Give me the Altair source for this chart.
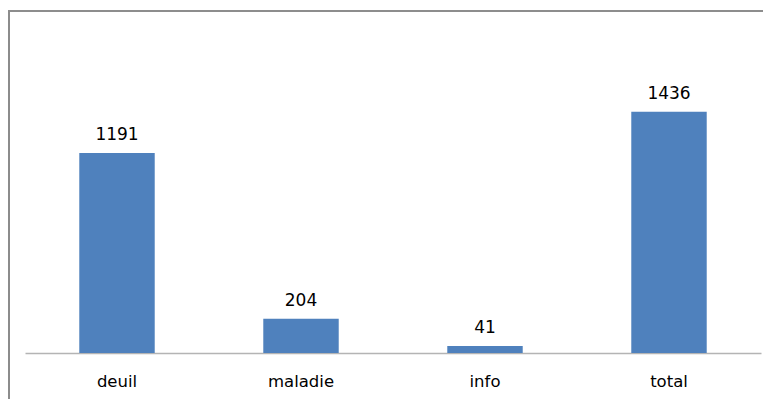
import altair as alt
import pandas as pd

categories = ["deuil", "maladie", "info", "total"]
values = [1191, 204, 41, 1436]

df = pd.DataFrame({"cat": categories, "val": values})

W, H = 736, 336

base = alt.Chart(df).encode(
    x=alt.X("cat:N", sort=categories,
            scale=alt.Scale(paddingInner=0.59, paddingOuter=0.295),
            axis=alt.Axis(title=None, labelAngle=0, ticks=False, domainColor="#b4b4b4",
                          domainWidth=1.5, labelFont="DejaVu Sans", labelFontSize=16.5,
                          labelColor="#000000", labelPadding=20, grid=False)),
    y=alt.Y("val:Q", scale=alt.Scale(domain=[0, 2000], nice=False), axis=None),
)

bars = base.mark_bar(color="#4F81BD")
labels = base.mark_text(dy=-9, baseline="bottom", font="DejaVu Sans", fontSize=17,
                        color="#000000").encode(text="val:Q")

frame_left = alt.Chart(df).mark_rule(color="#8c8c8c", strokeWidth=2).encode(
    x=alt.value(-16), y=alt.value(-6), y2=alt.value(H + 60))
frame_top = alt.Chart(df).mark_rule(color="#8c8c8c", strokeWidth=1.5).encode(
    x=alt.value(-17), x2=alt.value(W + 2), y=alt.value(-6))

chart = alt.layer(bars, labels, frame_left, frame_top).properties(
    width=W, height=H,
    autosize=alt.AutoSizeParams(type="none"),
    padding={"left": 17, "top": 9, "right": 2, "bottom": 46},
).configure_view(stroke=None)

chart.save("out.html", embed_options={"renderer": "svg", "actions": False})
